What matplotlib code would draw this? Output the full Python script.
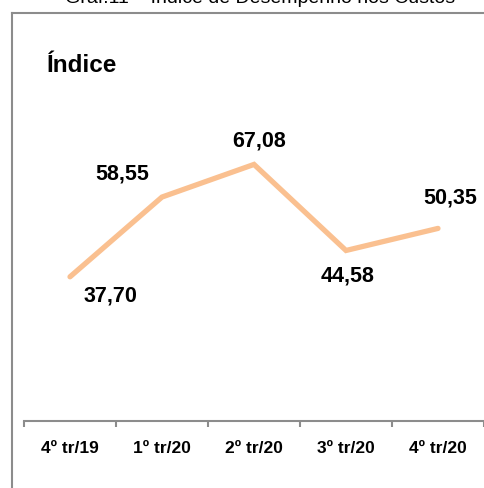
import matplotlib
matplotlib.use("Agg")
import matplotlib.pyplot as plt
from matplotlib.lines import Line2D

categories = ["4º tr/19", "1º tr/20", "2º tr/20", "3º tr/20", "4º tr/20"]
values = [37.70, 58.55, 67.08, 44.58, 50.35]
value_labels = ["37,70", "58,55", "67,08", "44,58", "50,35"]
title = "Graf.11 – Índice de Desempenho nos Custos"
ylabel_text = "Índice"

FONT = ["Liberation Sans", "DejaVu Sans"]
plt.rcParams["font.family"] = FONT

W, H = 485, 489
fig = plt.figure(figsize=(W / 100, H / 100), dpi=100)

# axes placement (pixels)
left_px, right_px = 24, 484
zero_px, top_px = 422, 116
ax = fig.add_axes([left_px / W, (H - zero_px) / H, (right_px - left_px) / W, (zero_px - top_px) / H])

x = list(range(len(categories)))
ax.plot(x, values, color="#FAC090", lw=3.8, solid_capstyle="round", solid_joinstyle="miter")
ax.set_xlim(-0.5, len(categories) - 0.5)
ax.set_ylim(0, 80)

# label offsets in pixels (dx right, dy up)
offsets = [(40, -18), (-40, 24), (5, 24), (2, -25), (12, 31)]
for xi, v, lab, (dx, dy) in zip(x, values, value_labels, offsets):
    ax.annotate(lab, (xi, v), xytext=(dx * 0.72, dy * 0.72), textcoords="offset points",
                ha="center", va="center", fontsize=15.5, fontweight="bold", color="black")

for s in ["top", "right", "left"]:
    ax.spines[s].set_visible(False)
ax.spines["bottom"].set_color("#8C8C8C")
ax.spines["bottom"].set_linewidth(1.5)
ax.set_yticks([])
ax.set_xticks(x)
ax.set_xticklabels(categories, fontsize=12.5, fontweight="bold")
ax.set_xticks([i - 0.5 for i in range(len(categories) + 1)], minor=True)
ax.tick_params(axis="x", which="major", length=0, pad=14)
ax.tick_params(axis="x", which="minor", length=4, width=1.5, color="#8C8C8C", direction="out")

# frame (chart area border)
fx = 12.5 / W
fy = 1 - 13.5 / H
fig.add_artist(Line2D([fx, fx], [0, fy], transform=fig.transFigure, color="#8C8C8C", lw=1.5))
fig.add_artist(Line2D([fx, 1.0], [fy, fy], transform=fig.transFigure, color="#8C8C8C", lw=1.5))

# clipped title at top (cut off in the reference as well)
fig.text(260 / W, 1 - 3 / H, title, ha="center", va="baseline", fontsize=14,
         family=["Liberation Sans", "DejaVu Sans"], color="black")

fig.text(47 / W, 1 - 72 / H, ylabel_text, ha="left", va="baseline", fontsize=17.5, fontweight="bold")

fig.savefig("out.png", dpi=100)
